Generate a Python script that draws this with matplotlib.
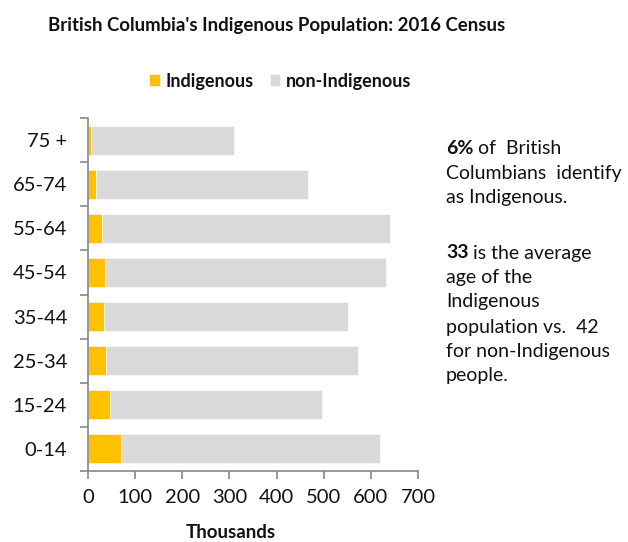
import matplotlib
matplotlib.use("Agg")
import matplotlib.pyplot as plt
import numpy as np

plt.rcParams['font.family'] = ['Lato', 'DejaVu Sans']

age_groups = ["0-14", "15-24", "25-34", "35-44", "45-54", "55-64", "65-74", "75 +"]
indigenous = [71, 46, 38, 33, 36, 29, 16, 6]
non_indigenous = [549, 451, 535, 518, 597, 612, 450, 303]
x_ticks = [0, 100, 200, 300, 400, 500, 600, 700]

YELLOW = "#FFC000"
GRAY = "#D9D9D9"
AXIS = "#868686"

W, H = 628, 542
fig = plt.figure(figsize=(W / 100, H / 100), dpi=100)
ax = fig.add_axes([88 / W, 1 - 471 / H, (418 - 88) / W, (471 - 118) / H])

y = np.arange(len(age_groups))
ax.barh(y, indigenous, height=0.66, color=YELLOW, label="Indigenous", edgecolor="white", linewidth=0.4)
ax.barh(y, non_indigenous, left=indigenous, height=0.66, color=GRAY, label="non-Indigenous",
        edgecolor="white", linewidth=0.4)

ax.set_xlim(0, 700)
ax.set_ylim(-0.5, len(age_groups) - 0.5)
ax.set_xticks(x_ticks)
ax.set_xticklabels([str(v) for v in x_ticks], fontsize=14.5)
ax.set_yticks(y)
ax.set_yticklabels(age_groups, fontsize=14.5)
ax.set_yticks(np.arange(-0.5, len(age_groups), 1), minor=True)

for s in ["top", "right"]:
    ax.spines[s].set_visible(False)
for s in ["left", "bottom"]:
    ax.spines[s].set_color(AXIS)
    ax.spines[s].set_linewidth(1.2)

ax.tick_params(axis="y", which="major", length=0, pad=15, colors="#111111")
ax.tick_params(axis="y", which="minor", length=6, width=1.2, color=AXIS)
ax.tick_params(axis="x", which="major", length=6, width=1.2, color=AXIS, pad=7, labelcolor="#111111")

fig.text(277 / W, 1 - 25 / H, "British Columbia's Indigenous Population: 2016 Census",
         ha="center", va="center", fontsize=13.4, fontweight="bold", color="#111111")

fig.text(231 / W, 1 - 533 / H, "Thousands", ha="center", va="center",
         fontsize=13.5, fontweight="bold", color="#111111")

handles, labels = ax.get_legend_handles_labels()
leg = fig.legend(handles, labels, loc="center", bbox_to_anchor=(280 / W, 1 - 81 / H),
                 ncol=2, frameon=False, handlelength=0.6, handleheight=0.6,
                 handletextpad=0.3, columnspacing=0.9,
                 prop={"weight": "bold", "size": 13})
for t in leg.get_texts():
    t.set_color("#111111")

# side annotation
fs = 14
x0 = 446 / W
lines = [
    (148, "6%", " of  British"),
    (173, "", "Columbians  identify"),
    (198, "", "as Indigenous."),
    (253, "33", " is the average"),
    (277, "", "age of the"),
    (302, "", "Indigenous"),
    (327, "", "population vs.  42"),
    (352, "", "for non-Indigenous"),
    (376, "", "people."),
]
for ypix, bold, rest in lines:
    yy = 1 - ypix / H
    if bold:
        t = fig.text(x0, yy, bold, ha="left", va="center", fontsize=fs,
                     fontweight="bold", color="#111111")
        ax.annotate(rest, xy=(1, 0.5), xycoords=t, ha="left", va="center",
                    fontsize=fs, color="#111111", annotation_clip=False)
    else:
        fig.text(x0, yy, rest, ha="left", va="center", fontsize=fs, color="#111111")

fig.savefig("out.png", dpi=100)
